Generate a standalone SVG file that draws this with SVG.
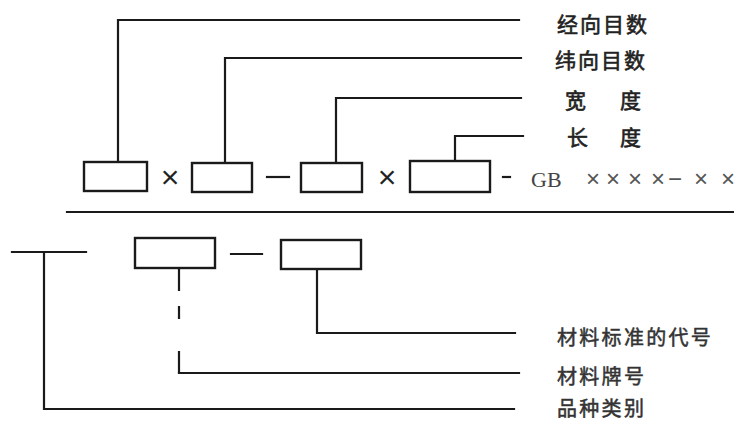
<svg xmlns="http://www.w3.org/2000/svg" width="734" height="423" viewBox="0 0 734 423">
<style>
.ln{fill:none;stroke:#1a1a1a;stroke-width:2.2;stroke-linecap:square}
.bx{fill:#fff;stroke:#1a1a1a;stroke-width:2.4}
.cn{font-family:"Noto Sans CJK SC","Noto Sans CJK JP",sans-serif;font-size:21px;font-weight:normal;fill:#222;stroke:#222;stroke-width:0.6;letter-spacing:2px}
.cn2{font-family:"Noto Sans CJK SC","Noto Sans CJK JP",sans-serif;font-size:20px;font-weight:normal;fill:#333;stroke:#333;stroke-width:0.5;letter-spacing:2.3px}
.op{font-family:"Liberation Sans",Arial,sans-serif;font-size:32px;fill:#222}
.gb{font-family:"Liberation Serif","Times New Roman",serif;font-size:22px;fill:#444}
.xx{font-family:"Liberation Sans",Arial,sans-serif;font-size:24px;fill:#555}
</style>
<rect width="734" height="423" fill="#fff"/>
<g id="connectors">
<polyline class="ln" points="118,162 118,20 519,20"/>
<polyline class="ln" points="225,163 225,58 521,58"/>
<polyline class="ln" points="336,163 336,98 521,98"/>
<polyline class="ln" points="455,161 455,136 523,136"/>
<line class="ln" x1="67" y1="212" x2="734" y2="212"/>
<line class="ln" x1="12" y1="252" x2="86" y2="252"/>
<polyline class="ln" points="44,252 44,409 514,409"/>
<line class="ln" x1="179" y1="268" x2="179" y2="373" stroke-dasharray="22 17 11 34 20" stroke-linecap="butt"/>
<line class="ln" x1="179" y1="373" x2="519" y2="373"/>
<polyline class="ln" points="317,269 317,333 515,333"/>
</g>
<g id="box1"><rect class="bx" x="84" y="162" width="63" height="29"/></g>
<g id="box2"><rect class="bx" x="192" y="163" width="60" height="29"/></g>
<g id="box3"><rect class="bx" x="301" y="163" width="61" height="29"/></g>
<g id="box4"><rect class="bx" x="410" y="161" width="80" height="31"/></g>
<g id="boxA"><rect class="bx" x="135" y="238" width="80" height="30"/></g>
<g id="boxB"><rect class="bx" x="281" y="240" width="80" height="29"/></g>
<g id="operators">
<text class="op" x="170" y="188" text-anchor="middle">×</text>
<line class="ln" x1="267" y1="177" x2="289" y2="177"/>
<text class="op" x="387" y="188" text-anchor="middle">×</text>
<line class="ln" x1="503" y1="177" x2="510" y2="177"/>
<line class="ln" x1="231" y1="254" x2="262" y2="254"/>
<text class="gb" x="531" y="187">GB</text>
<text class="xx" x="586 606 628 651 668 694 721" y="187">××××−××</text>
</g>
<g id="labels">
<text class="cn" x="557" y="32">经向目数</text>
<text class="cn" x="555" y="68">纬向目数</text>
<text class="cn" x="565" y="108">宽<tspan x="620">度</tspan></text>
<text class="cn" x="567" y="145">长<tspan x="620">度</tspan></text>
<text class="cn2" x="557" y="345">材料标准的代号</text>
<text class="cn2" x="557" y="384">材料牌号</text>
<text class="cn2" x="557" y="416">品种类别</text>
</g>
</svg>
